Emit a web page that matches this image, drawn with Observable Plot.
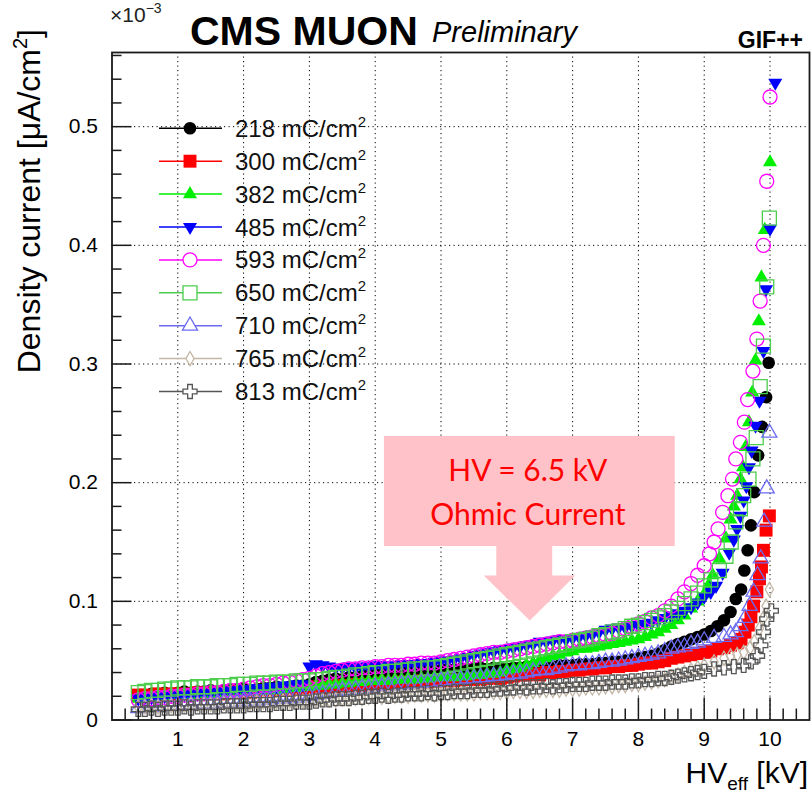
<!DOCTYPE html>
<html><head><meta charset="utf-8">
<script src="https://cdn.jsdelivr.net/npm/d3@7"></script>
<script src="https://cdn.jsdelivr.net/npm/@observablehq/plot@0.6"></script>
<style>
body{margin:0;background:#fff;}
#wrap{position:relative;width:812px;height:801px;overflow:hidden;background:#fff;}
#wrap svg{position:absolute;left:0;top:0;}
</style></head><body><div id="wrap"></div>
<script>
// ---------------- data (current in nA/cm^2 = 1e-3 µA/cm^2) ----------------
const doses = [218, 300, 382, 485, 593, 650, 710, 765, 813];
const hvScan = [0.4,0.5,0.6,0.7,0.8,0.9,1.0,1.1,1.2,1.3,
 1.4,1.5,1.6,1.7,1.8,1.9,2.0,2.1,2.2,2.3,
 2.4,2.5,2.6,2.7,2.8,2.9,3.0,3.1,3.2,3.3,
 3.4,3.5,3.6,3.7,3.8,3.9,4.0,4.1,4.2,4.3,
 4.4,4.5,4.6,4.7,4.8,4.9,5.0,5.1,5.2,5.3,
 5.4,5.5,5.6,5.7,5.8,5.9,6.0,6.1,6.2,6.3,
 6.4,6.5,6.6,6.7,6.8,6.9,7.0,7.1,7.2,7.3,
 7.4,7.5,7.6,7.7,7.8,7.9,8.0,8.1,8.2,8.3,
 8.4,8.5,8.6,8.7,8.8,8.9,9.0];
const scan218 = [20,21,22,22,23,22,23,24,23,24,24,25,24,25,25,26,26,25,26,27,27,28,27,28,29,29,30,32,33,34,35,34,36,36,37,38,38,39,38,39,40,40,41,41,42,41,42,43,42,43,43,44,44,43,44,44,43,44,44,45,45,45,46,45,46,46,46,47,47,47,48,48,49,49,50,51,52,53,54,56,59,62,64,66,68,70,72];
const scan300 = [21,21,20,22,21,22,22,21,22,23,22,23,23,22,23,24,24,23,24,25,24,25,26,25,26,27,27,28,27,28,29,28,29,30,29,30,30,31,30,31,32,31,32,33,32,33,33,34,33,34,34,35,34,35,36,35,36,37,38,38,39,38,40,40,41,41,42,42,43,43,44,44,45,45,46,46,47,48,48,49,50,52,53,54,55,56,57];
const scan382 = [18,19,19,20,20,21,21,22,21,22,22,23,22,23,23,24,24,24,25,25,26,25,26,27,27,28,28,29,29,30,30,31,31,32,32,33,33,34,33,34,34,35,34,35,35,36,36,37,36,37,37,38,38,39,39,40,42,43,44,46,48,50,52,54,55,57,58,60,60,61,62,63,64,65,66,67,68,70,72,74,77,80,84,88,94,100,106];
const scan485 = [18,19,19,20,20,21,21,21,22,22,23,23,24,24,25,25,26,26,27,27,28,28,29,29,30,30,45,47,46,45,44,44,45,44,45,45,46,46,45,46,47,47,47,48,48,49,50,50,51,52,53,55,56,57,58,59,60,61,62,63,64,66,66,67,68,68,69,70,71,72,74,76,77,78,78,79,80,81,82,84,86,88,90,92,95,99,104];
const scan593 = [17,18,18,19,19,20,20,21,21,22,22,23,23,24,25,25,26,27,28,29,29,30,31,32,33,34,35,37,39,40,41,42,43,43,44,44,45,45,46,46,46,47,47,48,48,48,49,50,51,52,53,54,55,56,57,57,58,59,60,61,62,63,64,65,66,66,67,68,69,70,71,72,73,75,77,79,81,83,86,88,92,96,102,108,115,122,130];
const scan650 = [23,24,25,25,26,26,27,27,27,28,28,28,29,29,29,30,30,30,31,31,31,32,32,32,33,33,33,34,34,35,36,36,37,38,38,39,40,40,41,41,42,42,43,43,44,44,45,46,47,48,49,50,51,52,53,54,55,56,57,58,59,60,61,62,63,64,66,67,68,69,71,72,74,75,77,79,80,82,84,86,88,91,94,98,102,107,113];
const scan710 = [10,11,11,11,12,12,12,13,13,13,14,14,14,15,15,15,16,16,16,17,17,18,18,18,19,19,20,21,22,23,24,25,25,26,27,27,28,28,29,29,30,30,31,31,32,32,33,33,34,34,35,35,36,36,37,37,38,39,39,40,41,42,42,43,44,45,46,46,47,47,48,49,49,50,51,52,53,54,55,56,58,60,61,62,64,65,67];
const scan765 = [11,11,12,11,12,12,12,12,13,13,13,13,13,14,14,14,14,14,15,15,15,15,16,16,16,16,16,17,17,17,17,18,18,18,18,19,19,19,20,20,20,20,21,21,21,21,21,22,22,22,22,22,23,23,23,23,23,24,24,24,24,25,25,25,25,26,26,26,27,27,27,28,28,29,29,30,30,31,32,33,34,36,38,40,42,44,46];
const scan813 = [9,9,10,9,10,10,10,11,10,11,11,11,11,12,12,12,12,13,13,13,13,14,14,14,15,15,15,16,17,17,18,18,18,19,19,20,20,21,20,21,21,22,22,22,23,22,23,23,24,24,24,25,25,25,26,26,27,27,28,27,28,28,29,28,29,29,30,30,30,31,31,31,32,32,32,33,33,34,34,35,35,36,37,38,39,40,41];
// high-voltage points [HV_eff kV, current nA/cm^2]
const knee218 = [[9.1,75],[9.2,79],[9.3,84],[9.4,91],[9.48,102],[9.56,110],[9.61,126],[9.66,143],[9.71,164],[9.76,192],[9.82,223],[9.88,247],[9.94,272],[9.98,301]];
const knee300 = [[9.1,58],[9.2,60],[9.3,61],[9.4,63],[9.5,65],[9.56,68],[9.62,74],[9.67,80],[9.71,87],[9.75,96],[9.8,108],[9.84,119],[9.87,129],[9.9,143],[9.94,160],[9.99,172]];
const knee382 = [[9.07,114],[9.13,122],[9.23,136],[9.33,153],[9.4,169],[9.45,180],[9.5,189],[9.55,203],[9.59,213],[9.63,230],[9.68,251],[9.73,276],[9.78,303],[9.83,336],[9.87,373],[9.92,413],[10.0,470]];
const knee485 = [[9.1,108],[9.18,113],[9.28,124],[9.38,141],[9.45,152],[9.5,161],[9.55,172],[9.6,185],[9.64,197],[9.68,213],[9.72,227],[9.78,248],[9.84,269],[9.9,311],[9.94,363],[10.0,414],[10.08,537]];
const knee593 = [[9.08,140],[9.15,150],[9.21,161],[9.28,175],[9.36,189],[9.43,203],[9.48,220],[9.55,234],[9.61,251],[9.66,270],[9.74,294],[9.8,321],[9.85,353],[9.9,400],[9.95,454],[10.0,525]];
const knee650 = [[9.1,118],[9.23,126],[9.33,138],[9.41,150],[9.48,167],[9.55,178],[9.6,189],[9.68,203],[9.74,220],[9.79,238],[9.85,281],[9.9,315],[9.95,365],[9.99,423]];
const knee710 = [[9.15,69],[9.3,70],[9.4,72],[9.48,74],[9.55,79],[9.62,86],[9.69,96],[9.75,108],[9.81,122],[9.86,136],[9.91,167],[9.95,195],[9.99,242]];
const knee765 = [[9.15,49],[9.3,52],[9.4,54],[9.5,55],[9.6,57],[9.7,61],[9.76,66],[9.84,77],[9.9,86],[9.94,96],[9.99,110]];
const knee813 = [[9.15,43],[9.3,44],[9.45,45],[9.6,46],[9.71,49],[9.81,54],[9.86,63],[9.9,74],[9.95,85],[10.02,92]];
// axis ticks
const xMajor = [1,2,3,4,5,6,7,8,9,10];
const xMinor = [0.2,0.4,0.6,0.8,1.2,1.4,1.6,1.8,2.2,2.4,2.6,2.8,3.2,3.4,3.6,3.8,4.2,4.4,4.6,4.8,5.2,5.4,5.6,5.8,6.2,6.4,6.6,6.8,7.2,7.4,7.6,7.8,8.2,8.4,8.6,8.8,9.2,9.4,9.6,9.8,10.2,10.4];
const yMajor = [0,0.1,0.2,0.3,0.4,0.5];
const yMinor = [0.02,0.04,0.06,0.08,0.12,0.14,0.16,0.18,0.22,0.24,0.26,0.28,0.32,0.34,0.36,0.38,0.42,0.44,0.46,0.48,0.52,0.54,0.56];
// annotation (data coordinates)
const noteBox = [{x1: 4.14, x2: 8.56, y1: 0.1462, y2: 0.2389}];
const noteArrow = [[5.84,0.150],[6.69,0.150],[6.69,0.1218],[7.04,0.1218],[6.35,0.0838],[5.65,0.1218],[5.84,0.1218]];
const noteText = [{x: 6.32, y: 0.2017, text: "HV = 6.5 kV"}, {x: 6.32, y: 0.1640, text: "Ohmic Current"}];

// ---------------- styles ----------------
const FONT = "'Liberation Sans', Arial, Helvetica, sans-serif";
const triDown = {draw(context, size) {
  const flip = {moveTo: (x, y) => context.moveTo(x, -y), lineTo: (x, y) => context.lineTo(x, -y), closePath: () => context.closePath()};
  d3.symbolTriangle.draw(flip, size);
}};
const markerStyle = {
  218: {symbol: d3.symbolCircle, r: 6.3, color: "#000000", filled: true},
  300: {symbol: d3.symbolSquare, r: 7.3, color: "#ff0000", filled: true},
  382: {symbol: d3.symbolTriangle, r: 5.2, color: "#00ee00", filled: true},
  485: {symbol: triDown, r: 5.2, color: "#0000ff", filled: true},
  593: {symbol: d3.symbolCircle, r: 7, color: "#ff00ff", filled: false},
  650: {symbol: d3.symbolSquare, r: 7.9, color: "#4ccd4c", filled: false},
  710: {symbol: d3.symbolTriangle, r: 5.6, color: "#6b6bf2", filled: false},
  765: {symbol: d3.symbolDiamond, r: 4.3, color: "#c4b7a6", filled: false},
  813: {symbol: d3.symbolCross, r: 5.9, color: "#555555", filled: false}
};

const scans = [scan218, scan300, scan382, scan485, scan593, scan650, scan710, scan765, scan813];
const knees = [knee218, knee300, knee382, knee485, knee593, knee650, knee710, knee765, knee813];
const series = doses.map((dose, k) => ({
  dose,
  rows: [...hvScan.map((hv, i) => ({hv, v: scans[k][i]})), ...knees[k].map(([hv, v]) => ({hv, v}))]
}));

// ---------------- layout ----------------
const W = 812, H = 801;
const mL = 111.5, mR = 3, mT = 52, mB = 81.5;
const innerW = W - mL - mR, innerH = H - mT - mB;
const ink = "#1a1a1a";
const dotted = {stroke: "#000", strokeWidth: 1, strokeDasharray: "1.2,3.3"};

const dotMarks = series.map(s => {
  const st = markerStyle[s.dose];
  return Plot.dot(s.rows, {
    x: "hv", y: d => d.v / 1000, r: st.r, symbol: st.symbol,
    fill: st.filled ? st.color : "none",
    stroke: st.filled ? "none" : st.color,
    strokeWidth: 1.3
  });
});

const chart = Plot.plot({
  width: W, height: H,
  marginLeft: mL, marginRight: mR, marginTop: mT, marginBottom: mB,
  style: {background: "transparent", fontFamily: FONT, fontSize: "21px", color: "#000", overflow: "visible"},
  x: {domain: [0, 10.6]},
  y: {domain: [0, 0.5625]},
  marks: [
    Plot.ruleX(xMajor, {x: d => d, ...dotted}),
    Plot.ruleY(yMajor.filter(d => d > 0), {y: d => d, ...dotted}),
    ...dotMarks,
    Plot.rect(noteBox, {x1: "x1", x2: "x2", y1: "y1", y2: "y2", fill: "#ffc2c9"}),
    Plot.line(noteArrow, {x: d => d[0], y: d => d[1], fill: "#ffc2c9", stroke: "none"}),
    Plot.text(noteText, {x: "x", y: "y", text: "text", fill: "#ff0000", fontSize: 30, fontFamily: "Lato, 'Open Sans', sans-serif", lineAnchor: "bottom"}),
    Plot.tickX(xMajor, {x: d => d, insetTop: innerH - 22, stroke: ink, strokeWidth: 1.5}),
    Plot.tickX(xMinor, {x: d => d, insetTop: innerH - 11, stroke: ink, strokeWidth: 1.5}),
    Plot.tickY(yMajor, {y: d => d, insetRight: innerW - 20, stroke: ink, strokeWidth: 1.5}),
    Plot.tickY(yMinor, {y: d => d, insetRight: innerW - 10, stroke: ink, strokeWidth: 1.5}),
    Plot.axisX(xMajor, {tickSize: 0, tickPadding: 11, label: null, fontSize: 21, fontFamily: FONT, tickFormat: d => String(d)}),
    Plot.axisY(yMajor, {tickSize: 0, tickPadding: 14, label: null, fontSize: 21, fontFamily: FONT, tickFormat: d => d === 0 ? "0" : d.toFixed(1)}),
    Plot.frame({stroke: ink, strokeWidth: 1.8})
  ]
});
document.getElementById("wrap").appendChild(chart);

// ---------------- titles, axis titles, legend ----------------
const ov = d3.select("#wrap").append("svg")
  .attr("width", W).attr("height", H)
  .attr("font-family", FONT).style("pointer-events", "none");

ov.append("text").attr("x", 190).attr("y", 45).attr("font-size", 41).attr("font-weight", "bold").text("CMS MUON");
ov.append("text").attr("x", 432).attr("y", 42).attr("font-size", 29).attr("font-style", "italic").text("Preliminary");
ov.append("text").attr("x", 803).attr("y", 48).attr("text-anchor", "end").attr("font-size", 23).attr("font-weight", "bold").text("GIF++");
const ex = ov.append("text").attr("x", 110).attr("y", 22).attr("font-size", 21).attr("fill", "#222");
ex.append("tspan").text("\u00d710");
ex.append("tspan").attr("font-size", 14).attr("dy", -9).text("\u22123");

const yt = ov.append("text").attr("transform", "translate(40,29) rotate(-90)").attr("text-anchor", "end").attr("font-size", 32);
yt.append("tspan").text("Density current [\u03bcA/cm");
yt.append("tspan").attr("font-size", 20).attr("dy", -13).text("2");
yt.append("tspan").attr("dy", 13).text("]");

const xt = ov.append("text").attr("x", 808).attr("y", 783).attr("text-anchor", "end").attr("font-size", 30);
xt.append("tspan").text("HV");
xt.append("tspan").attr("font-size", 19).attr("dy", 7).text("eff");
xt.append("tspan").attr("dy", -7).text("\u00a0[kV]");

const lg = ov.append("g");
doses.forEach((dose, i) => {
  const st = markerStyle[dose];
  const y = 128.3 + 32.9 * i;
  lg.append("line").attr("x1", 159).attr("x2", 222).attr("y1", y).attr("y2", y)
    .attr("stroke", st.color).attr("stroke-width", 1.5);
  lg.append("path").attr("transform", `translate(190,${y})`)
    .attr("d", d3.symbol().type(st.symbol).size(Math.PI * st.r * st.r)())
    .attr("fill", st.filled ? st.color : "#fff")
    .attr("stroke", st.filled ? "none" : st.color).attr("stroke-width", 1.3);
  const t = lg.append("text").attr("x", 235).attr("y", y + 8.5).attr("font-size", 24).attr("fill", "#111");
  t.append("tspan").text(`${dose} mC/cm`);
  t.append("tspan").attr("font-size", 15).attr("dy", -10).text("2");
});
</script>
</body></html>
